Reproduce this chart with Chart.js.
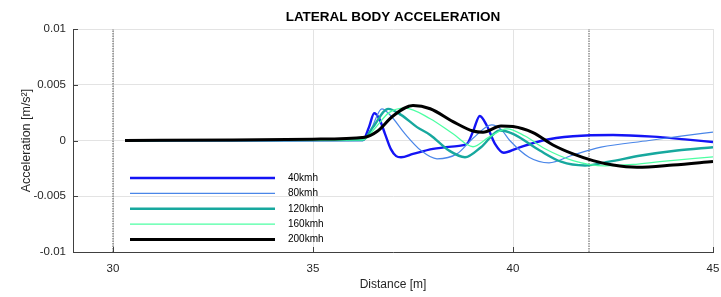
<!DOCTYPE html>
<html>
<head>
<meta charset="utf-8">
<script src="https://cdn.jsdelivr.net/npm/chart.js@4.4.0/dist/chart.umd.min.js"></script>
<style>
  html, body { margin: 0; padding: 0; background: #fff; }
  #wrap { width: 721px; height: 297px; }
</style>
</head>
<body>
<div id="wrap"><canvas id="accelChart" width="721" height="297"></canvas></div>
<script>
// Distance [m] and lateral acceleration [m/s^2] per speed
const d40 = [30.3, 34, 36.25, 36.4, 36.53, 36.65, 36.8, 36.95, 37.08, 37.2, 37.5, 38.0, 38.6, 38.85, 39.0, 39.17, 39.35, 39.55, 39.77, 40.1, 40.74, 41.5, 42.5, 43.5, 44.3, 45];
const a40 = [0, 0.00002, 0.00005, 0.0012, 0.00245, 0.002, 0.0006, -0.0008, -0.0014, -0.0015, -0.0012, -0.00075, -0.0005, -0.0003, 0.0008, 0.0022, 0.0013, -0.0003, -0.0011, -0.0007, 0, 0.00038, 0.0005, 0.00035, 0.0001, -0.00014];

const d80 = [30.3, 34, 36.25, 36.45, 36.72, 36.95, 37.3, 37.7, 38.1, 38.6, 39.0, 39.47, 39.7, 39.92, 40.4, 40.9, 41.5, 42.2, 43.4, 44.2, 45];
const a80 = [0, 0.00002, 0.00005, 0.001, 0.00284, 0.0022, 0.0006, -0.0009, -0.00164, -0.0012, 0.0002, 0.0014, 0.001, 0, -0.0015, -0.002, -0.0013, -0.0006, 0, 0.0004, 0.00075];

const d120 = [30.3, 34, 36.25, 36.5, 36.88, 37.2, 37.6, 37.93, 38.4, 38.8, 39.2, 39.67, 40.0, 40.67, 41.2, 41.8, 42.4, 43.2, 44.1, 45];
const a120 = [0, 0.00002, 0.00005, 0.0012, 0.00284, 0.0023, 0.0012, 0.0005, -0.0009, -0.0015, -0.0006, 0.0009, 0.0006, -0.0009, -0.0019, -0.00224, -0.0019, -0.00135, -0.0009, -0.0006];

const d160 = [30.3, 34, 36.25, 36.55, 36.9, 37.3, 37.93, 38.5, 39.0, 39.4, 39.85, 40.3, 40.8, 41.5, 42.3, 43.0, 43.67, 45];
const a160 = [0, 0.00002, 0.00005, 0.0011, 0.0025, 0.0029, 0.00195, 0.0006, -0.00056, 0.0003, 0.00105, 0.0004, -0.00074, -0.0018, -0.00227, -0.00215, -0.0019, -0.00146];

const d200 = [30.3, 33, 35, 36.3, 36.6, 37.0, 37.5, 37.93, 38.5, 39.0, 39.25, 39.7, 40.0, 40.5, 41.0, 41.5, 42.0, 42.5, 43.1, 44.0, 45];
const a200 = [0, 0.00005, 0.00012, 0.0003, 0.0008, 0.0022, 0.00314, 0.00285, 0.0017, 0.00085, 0.00075, 0.0013, 0.00125, 0.0007, -0.0004, -0.0012, -0.0018, -0.0022, -0.0024, -0.0022, -0.00188];

const speedLabels = ['40kmh', '80kmh', '120kmh', '160kmh', '200kmh'];
const markerDistances = [30, 41.9];   // dotted vertical lines
const xTicks = [30, 35, 40, 45];
const yTicks = [-0.01, -0.005, 0, 0.005, 0.01];
const yTickLabels = ['-0.01', '-0.005', '0', '0.005', '0.01'];

const FONT = '"Liberation Sans", Arial, Helvetica, sans-serif';

function toPoints(xs, ys) {
    return xs.map((x, i) => ({ x: x, y: ys[i] }));
}

const seriesStyle = [
    { color: '#1414f5', width: 2.4, order: 4 },
    { color: '#4a86e8', width: 1.2, order: 3 },
    { color: '#17a89e', width: 2.4, order: 2 },
    { color: '#4dffa3', width: 1.3, order: 1 },
    { color: '#000000', width: 3,   order: 0 }
];
const seriesData = [[d40, a40], [d80, a80], [d120, a120], [d160, a160], [d200, a200]];

const datasets = seriesData.map((s, i) => ({
    label: speedLabels[i],
    data: toPoints(s[0], s[1]),
    borderColor: seriesStyle[i].color,
    borderWidth: seriesStyle[i].width,
    order: seriesStyle[i].order,
    pointRadius: 0,
    fill: false,
    cubicInterpolationMode: 'monotone'
}));

markerDistances.forEach(d => {
    datasets.push({
        label: 'marker',
        data: [{ x: d, y: -0.01 }, { x: d, y: 0.01 }],
        borderColor: '#555555',
        borderWidth: 1,
        borderDash: [1.5, 1],
        pointRadius: 0,
        order: 10
    });
});

// Title, inward ticks and in-plot legend (MATLAB look)
const decorations = {
    id: 'decorations',
    afterDatasetsDraw(chart) {
        const { ctx, chartArea: a, scales } = chart;
        ctx.save();
        // inward tick marks
        ctx.strokeStyle = '#404040';
        ctx.lineWidth = 1;
        ctx.beginPath();
        xTicks.forEach(v => {
            const px = Math.round(scales.x.getPixelForValue(v)) + 0.5;
            ctx.moveTo(px, a.bottom);
            ctx.lineTo(px, a.bottom - 5);
        });
        yTicks.forEach(v => {
            const py = Math.round(scales.y.getPixelForValue(v)) + 0.5;
            ctx.moveTo(a.left, py);
            ctx.lineTo(a.left + 5, py);
        });
        ctx.stroke();

        // legend inside the axes
        const x0 = a.left + 57, x1 = a.left + 202, y0 = a.top + 149, step = 15.4;
        ctx.font = '10px ' + FONT;
        ctx.textBaseline = 'middle';
        ctx.fillStyle = '#000';
        speedLabels.forEach((lab, i) => {
            const y = y0 + i * step;
            ctx.strokeStyle = seriesStyle[i].color;
            ctx.lineWidth = seriesStyle[i].width;
            ctx.beginPath();
            ctx.moveTo(x0, y);
            ctx.lineTo(x1, y);
            ctx.stroke();
            ctx.fillText(lab, x1 + 13, y);
        });

        // title
        ctx.font = 'bold 13.5px ' + FONT;
        ctx.textAlign = 'center';
        ctx.fillStyle = '#000';
        ctx.fillText('LATERAL BODY ACCELERATION', (a.left + a.right) / 2, 17);
        ctx.restore();
    }
};

new Chart(document.getElementById('accelChart'), {
    type: 'line',
    data: { datasets: datasets },
    plugins: [decorations],
    options: {
        responsive: false,
        animation: false,
        events: [],
        layout: { padding: { top: 29, right: 8, left: 0, bottom: 0 } },
        plugins: {
            legend: { display: false },
            tooltip: { enabled: false },
            title: { display: false }
        },
        scales: {
            x: {
                type: 'linear',
                min: 29,
                max: 45,
                afterBuildTicks: s => { s.ticks = xTicks.map(v => ({ value: v })); },
                afterFit: s => { s.height = 45; s.paddingLeft = 0; s.paddingRight = 0; },
                grid: { color: '#e3e3e3', drawTicks: false },
                border: { display: true, color: '#404040', width: 1 },
                ticks: {
                    padding: 10,
                    color: '#262626',
                    font: { family: FONT, size: 11.5 },
                    maxRotation: 0,
                    callback: v => String(v)
                },
                title: {
                    display: true,
                    text: 'Distance [m]',
                    color: '#262626',
                    font: { family: FONT, size: 12 },
                    padding: { top: 0, bottom: 5 }
                }
            },
            y: {
                type: 'linear',
                min: -0.01,
                max: 0.01,
                afterBuildTicks: s => { s.ticks = yTicks.map(v => ({ value: v })); },
                afterFit: s => { s.width = 73; s.paddingTop = 0; s.paddingBottom = 0; },
                grid: { color: '#e3e3e3', drawTicks: false },
                border: { display: true, color: '#404040', width: 1 },
                ticks: {
                    padding: 7,
                    color: '#262626',
                    font: { family: FONT, size: 11.5 },
                    callback: (v, i) => yTickLabels[i]
                },
                title: {
                    display: true,
                    text: 'Acceleration [m/s²]',
                    color: '#262626',
                    font: { family: FONT, size: 12.5 },
                    padding: { top: 19, bottom: 0 }
                }
            }
        }
    }
});
</script>
</body>
</html>
